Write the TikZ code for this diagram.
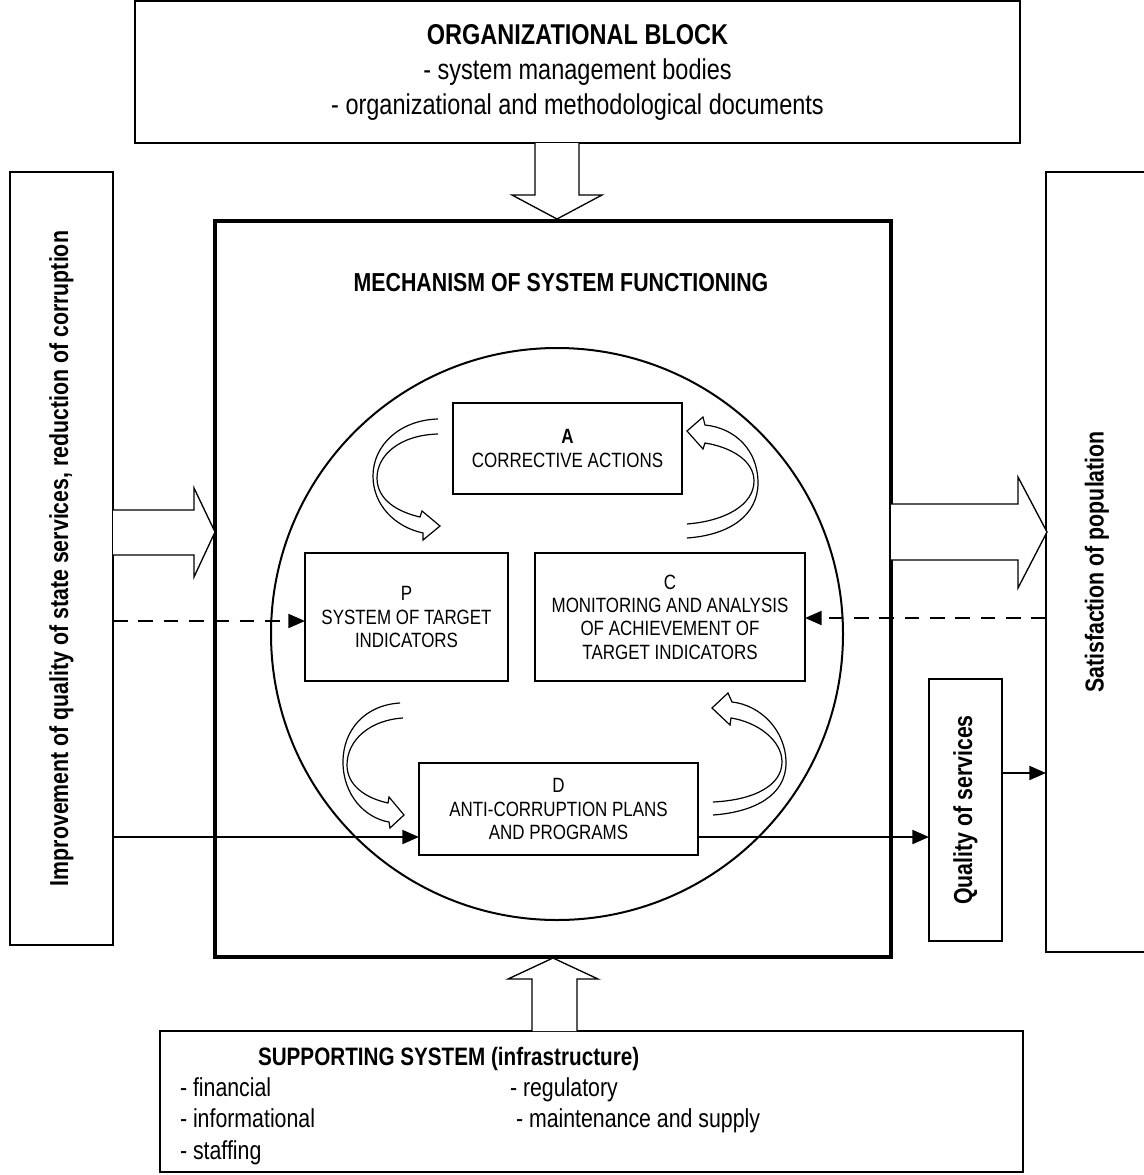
\documentclass[tikz,border=0pt]{standalone}
\usepackage{fontspec}
\setmainfont[FakeStretch=0.82]{Liberation Sans}
\usetikzlibrary{arrows.meta,calc}
\begin{document}
\begin{tikzpicture}[x=0.75pt,y=-0.75pt,
  every node/.style={inner sep=0pt, outer sep=0pt},
  bigbox/.style={draw, line width=1.5pt, align=center},
  inbox/.style={draw, line width=1.5pt, align=center, fill=white, font=\fontsize{15.5}{17.5}\selectfont},
  side/.style={draw, line width=1.5pt, font=\bfseries\fontsize{19.5}{22}\selectfont},
  conn/.style={line width=1.5pt, -{Triangle[length=12.5pt,width=10.5pt]}},
  dconn/.style={conn, dash pattern=on 11pt off 8pt},
  hollow/.style={draw, line width=1pt, fill=white, line join=miter},
  curved/.style={draw, line width=0.9pt, fill=white},
  lbl/.style={anchor=base west, font=\fontsize{19.5}{22}\selectfont}
]
\useasboundingbox (0,0) rectangle (1143,1175);

% outer boxes
\node[bigbox, minimum width=663.75pt, minimum height=106.5pt, font=\fontsize{21.5}{26.25}\selectfont] (org) at (577.5,72)
  {\textbf{ORGANIZATIONAL BLOCK}\\- system management bodies\\- organizational and methodological documents};
\node[draw, line width=3pt, minimum width=507pt, minimum height=552pt] (main) at (553,589) {};
\node[font=\bfseries\fontsize{19.5}{22}\selectfont] (mech) at (561,283) {MECHANISM OF SYSTEM FUNCTIONING};
\node[side, minimum width=77.25pt, minimum height=579.75pt] (left) at (61.5,558.5)
  {\rotatebox{90}{Improvement of quality of state services, reduction of corruption}};
\node[side, minimum width=76.5pt, minimum height=585pt] (right) at (1097,562)
  {\rotatebox{90}{Satisfaction of population}};
\node[side, minimum width=54.75pt, minimum height=196.5pt] (qual) at (965.5,810)
  {\rotatebox{90}{Quality of services}};
\node[bigbox, minimum width=647.25pt, minimum height=105.75pt] (supp) at (591.5,1101.5) {};
\node[lbl, font=\bfseries\fontsize{18.9}{22}\selectfont] (suppt) at (258,1065) {SUPPORTING SYSTEM (infrastructure)};
\node[lbl] (fin) at (180,1096) {- financial};
\node[lbl] (reg) at (510,1096) {- regulatory};
\node[lbl] (inf) at (180,1127) {- informational};
\node[lbl] (mai) at (516,1127) {- maintenance and supply};
\node[lbl] (sta) at (180,1159) {- staffing};

% circle and inner boxes
\node[circle, draw, line width=1.5pt, minimum size=429pt] (circ) at (557,634) {};
\node[inbox, minimum width=171.75pt, minimum height=68.25pt] (A) at (567.5,448.5) {\textbf{A}\\CORRECTIVE ACTIONS};
\node[inbox, minimum width=152.25pt, minimum height=96pt] (P) at (406.5,617) {P\\SYSTEM OF TARGET\\INDICATORS};
\node[inbox, minimum width=202.5pt, minimum height=96pt] (C) at (670,617) {C\\MONITORING AND ANALYSIS\\OF ACHIEVEMENT OF\\TARGET INDICATORS};
\node[inbox, minimum width=209.25pt, minimum height=69pt] (D) at (558.5,809) {D\\ANTI-CORRUPTION PLANS\\AND PROGRAMS};

% hollow block arrows
\path[hollow] (535,143) -- (535,195) -- (512,195) -- (557,219) -- (602,195) -- (579,195) -- (579,143);
\path[hollow] (532,1031) -- (532,979) -- (508,979) -- (553,958) -- (598,979) -- (577,979) -- (577,1031);
\path[hollow] (113,510) -- (194,510) -- (194,488) -- (215,532) -- (194,577) -- (194,555) -- (113,555);
\path[hollow] (891,504) -- (1018,504) -- (1018,477) -- (1047,532) -- (1018,588) -- (1018,560) -- (891,560);

% curved hollow arrows
\path[curved] (438,419) .. controls (400,420) and (373,445) .. (373,476) .. controls (373,505) and (395,527) .. (423,533)
  -- (423,540) -- (440,526) -- (422,511) -- (420,517)
  .. controls (398,512) and (377,500) .. (377,478) .. controls (377,455) and (400,435) .. (438,434);
\path[curved] (687,538) .. controls (730,535) and (758,515) .. (758,483) .. controls (758,450) and (735,428) .. (705,425)
  -- (703,417) -- (687,431) -- (703,449) -- (705,443)
  .. controls (730,447) and (754,460) .. (754,481) .. controls (754,505) and (725,521) .. (687,524);
\path[curved] (400,703) .. controls (365,705) and (343,730) .. (343,762) .. controls (343,795) and (365,818) .. (389,822)
  -- (390,828) -- (404,815) -- (389,797) -- (388,803)
  .. controls (365,798) and (347,785) .. (347,765) .. controls (347,740) and (370,720) .. (403,718);
\path[curved] (713,815) .. controls (755,812) and (786,795) .. (786,763) .. controls (786,730) and (760,705) .. (732,702)
  -- (728,693) -- (712,708) -- (730,725) -- (731,718)
  .. controls (757,722) and (782,740) .. (782,762) .. controls (782,785) and (755,800) .. (713,802);

% connectors
\coordinate (pin) at ($(P.west)+(0,4)$);
\coordinate (cin) at ($(C.east)+(0,1)$);
\coordinate (din) at ($(D.west)+(0,28)$);
\coordinate (dout) at ($(D.east)+(0,28)$);
\coordinate (qout) at ($(qual.east)+(0,-37)$);
\draw[dconn] (left.east |- pin) -- (pin);
\draw[dconn] (right.west |- cin) -- (cin);
\draw[conn] (left.east |- din) -- (din);
\draw[conn] (dout) -- (qual.west |- dout);
\draw[conn] (qout) -- (right.west |- qout);
\end{tikzpicture}
\end{document}
